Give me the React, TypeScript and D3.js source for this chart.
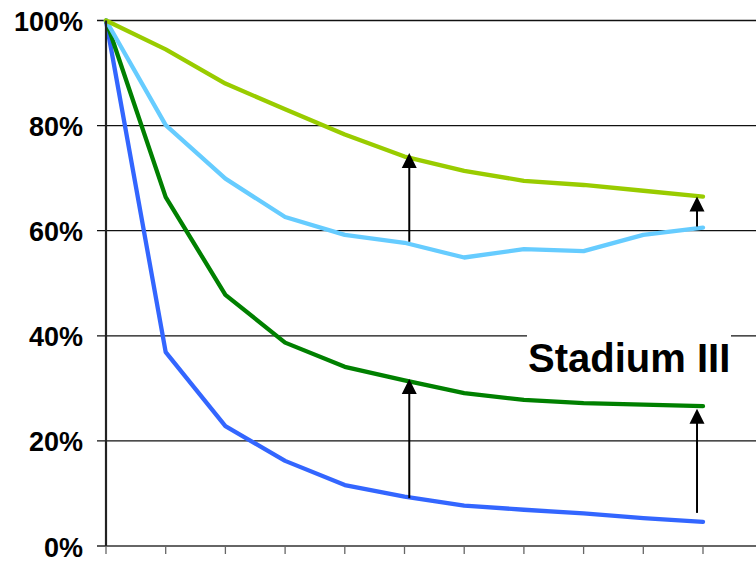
import React from "react";
import * as d3 from "d3";

const xIndex = [0, 1, 2, 3, 4, 5, 6, 7, 8, 9, 10];
const lightGreenValues = [100, 94.5, 88.0, 83.1, 78.3, 74.1, 71.4, 69.5, 68.7, 67.6, 66.5];
const lightBlueValues = [100, 80.1, 69.9, 62.6, 59.2, 57.7, 54.9, 56.5, 56.1, 59.2, 60.6];
const darkGreenValues = [100, 66.4, 47.8, 38.7, 34.1, 31.5, 29.1, 27.8, 27.2, 26.9, 26.6];
const blueValues = [100, 36.9, 22.8, 16.2, 11.6, 9.4, 7.7, 6.9, 6.2, 5.3, 4.6];
const yTicks = [0, 20, 40, 60, 80, 100];
const xTicks = [0, 1, 2, 3, 4, 5, 6, 7, 8, 9, 10, 11];
const arrowX = [5.08, 5.08, 9.9, 9.9];
const arrowFrom = [9.1, 57.9, 6.3, 60.8];
const arrowTo = [31.8, 74.8, 26.1, 66.5];
const annotation = "Stadium III";

const seriesList = [
  { values: blueValues, color: "#3366FF" },
  { values: darkGreenValues, color: "#008000" },
  { values: lightBlueValues, color: "#66CCFF" },
  { values: lightGreenValues, color: "#99CC00" },
];

export default function App() {
  const W = 756;
  const H = 561;
  const x = d3.scaleLinear().domain([0, 10]).range([106, 703]);
  const y = d3.scaleLinear().domain([0, 100]).range([546, 20.5]);
  const line = d3
    .line<number>()
    .x((_, i) => x(xIndex[i]))
    .y((d) => y(d));

  const font = "Arial, 'Liberation Sans', Helvetica, sans-serif";

  return (
    <svg
      width={W}
      height={H}
      style={{ position: "absolute", left: 0, top: 0, background: "#fff" }}
    >
      {yTicks
        .filter((t) => t > 0)
        .map((t) => (
          <line
            key={"g" + t}
            x1={97}
            x2={W}
            y1={y(t)}
            y2={y(t)}
            stroke="#111"
            strokeWidth={1.3}
          />
        ))}
      <line x1={106} x2={W} y1={y(0)} y2={y(0)} stroke="#333" strokeWidth={1.6} />
      <line x1={97} x2={106} y1={y(0)} y2={y(0)} stroke="#333" strokeWidth={1.6} />
      {xTicks.map((t) => (
        <line
          key={"xt" + t}
          x1={x(t)}
          x2={x(t)}
          y1={y(0)}
          y2={y(0) + 8}
          stroke="#666"
          strokeWidth={1.3}
        />
      ))}
      {yTicks.map((t) => (
        <text
          key={"yl" + t}
          x={83}
          y={y(t) + 10.5}
          textAnchor="end"
          fontFamily={font}
          fontWeight="bold"
          fontSize={27}
          fill="#000"
        >
          {t}%
        </text>
      ))}
      <rect x={527} y={y(40) - 6} width={204} height={50} fill="#fff" />
      <text
        x={528}
        y={371.5}
        fontFamily={font}
        fontWeight="bold"
        fontSize={40}
        fill="#000"
      >
        {annotation}
      </text>
      {seriesList.map((s, i) => (
        <path
          key={"s" + i}
          d={line(s.values) || ""}
          fill="none"
          stroke={s.color}
          strokeWidth={4.3}
          strokeLinejoin="round"
          strokeLinecap="round"
        />
      ))}
      <line x1={106} x2={106} y1={y(100)} y2={y(0)} stroke="#222" strokeWidth={2.2} />
      {arrowX.map((ax, i) => {
        const px = x(ax);
        const y0 = y(arrowFrom[i]);
        const y1 = y(arrowTo[i]);
        const headH = 15;
        const headW = 7.5;
        return (
          <g key={"a" + i}>
            <line x1={px} x2={px} y1={y0} y2={y1 + headH - 1} stroke="#000" strokeWidth={2} />
            <path
              d={`M${px},${y1} L${px - headW},${y1 + headH} L${px + headW},${y1 + headH} Z`}
              fill="#000"
            />
          </g>
        );
      })}
    </svg>
  );
}
